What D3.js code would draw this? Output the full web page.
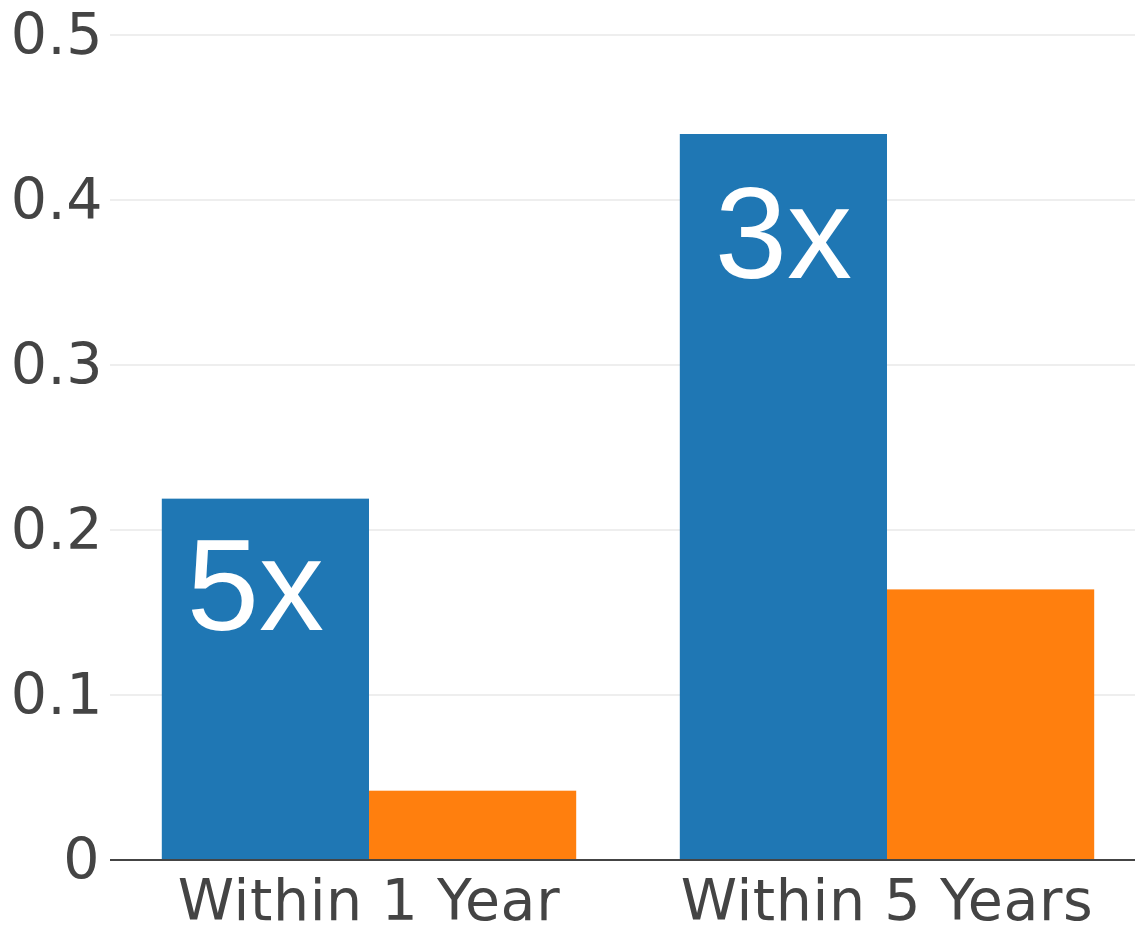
<!DOCTYPE html>
<html>
<head>
<meta charset="utf-8">
<script src="https://cdn.jsdelivr.net/npm/d3@7"></script>
<style>
  html, body { margin: 0; padding: 0; background: #fff; overflow: hidden; }
  svg { display: block; }
</style>
</head>
<body>
<svg id="chart" width="1135" height="926"></svg>
<script>
// ---- data ----
const categories = ["Within 1 Year", "Within 5 Years"];
const seriesNames = ["A", "B"];
const seriesA = [0.219, 0.44];
const seriesB = [0.042, 0.164];
const yTicks = [0, 0.1, 0.2, 0.3, 0.4, 0.5];
const annotationTexts = ["5x", "3x"];

// ---- layout ----
const W = 1135, H = 926;
const plot = { left: 110, right: 1146, top: 35, bottom: 860 };
const colors = ["#1f77b4", "#ff7f0e"];
const axisFont = "'DejaVu Sans', Verdana, sans-serif";

const svg = d3.select("#chart");

const x0 = d3.scaleBand().domain(categories).range([plot.left, plot.right]).paddingInner(0.2).paddingOuter(0.1);
const x1 = d3.scaleBand().domain(seriesNames).range([0, x0.bandwidth()]);
const y = d3.scaleLinear().domain([0, 0.5]).range([plot.bottom, plot.top]);

// gridlines
svg.append("g")
  .selectAll("line")
  .data(yTicks.filter(d => d !== 0))
  .join("line")
  .attr("x1", plot.left).attr("x2", W)
  .attr("y1", d => y(d)).attr("y2", d => y(d))
  .attr("stroke", "#eeeeee").attr("stroke-width", 2);

// bars
const table = categories.map((c, i) => ({ cat: c, vals: [seriesA[i], seriesB[i]] }));
const groups = svg.append("g").selectAll("g")
  .data(table).join("g")
  .attr("transform", d => `translate(${x0(d.cat)},0)`);
groups.selectAll("rect")
  .data(d => d.vals.map((v, j) => ({ s: seriesNames[j], v, j })))
  .join("rect")
  .attr("x", d => x1(d.s))
  .attr("width", x1.bandwidth())
  .attr("y", d => y(d.v))
  .attr("height", d => y(0) - y(d.v))
  .attr("fill", d => colors[d.j]);

// zero line
svg.append("line")
  .attr("x1", plot.left).attr("x2", W)
  .attr("y1", y(0)).attr("y2", y(0))
  .attr("stroke", "#444").attr("stroke-width", 2);

// y axis labels
const yAxis = d3.axisLeft(y).tickValues(yTicks).tickSize(0).tickPadding(7)
  .tickFormat(d => d === 0 ? "0" : d3.format(".1f")(d));
const ya = svg.append("g").attr("transform", `translate(${plot.left},0)`).call(yAxis);
ya.select(".domain").remove();
ya.selectAll("text")
  .attr("fill", "#444")
  .style("font-family", axisFont)
  .style("font-size", "57px")
  .style("letter-spacing", "0.5px");
ya.selectAll(".tick").filter(d => d === 0).select("text").attr("dx", "-3");

// x axis labels
const xAxis = d3.axisBottom(x0).tickSize(0).tickPadding(0);
const xa = svg.append("g").attr("transform", `translate(0,${plot.bottom})`).call(xAxis);
xa.select(".domain").remove();
xa.selectAll("text")
  .attr("y", 60).attr("dy", 0)
  .attr("fill", "#444")
  .style("font-family", axisFont)
  .style("font-size", "57px")
  .style("letter-spacing", "0.6px");

// annotations inside blue bars
const annOffsets = [{ dx: -10, dy: 131 }, { dx: 0, dy: 144 }];
svg.append("g").selectAll("text")
  .data(annotationTexts)
  .join("text")
  .attr("x", (d, i) => x0(categories[i]) + x1("A") + x1.bandwidth() / 2 + annOffsets[i].dx)
  .attr("y", (d, i) => y(seriesA[i]) + annOffsets[i].dy)
  .attr("text-anchor", "middle")
  .attr("fill", "#fff")
  .style("font-family", "'Liberation Sans', Arial, sans-serif")
  .style("font-size", "130px")
  .text(d => d);
</script>
</body>
</html>
